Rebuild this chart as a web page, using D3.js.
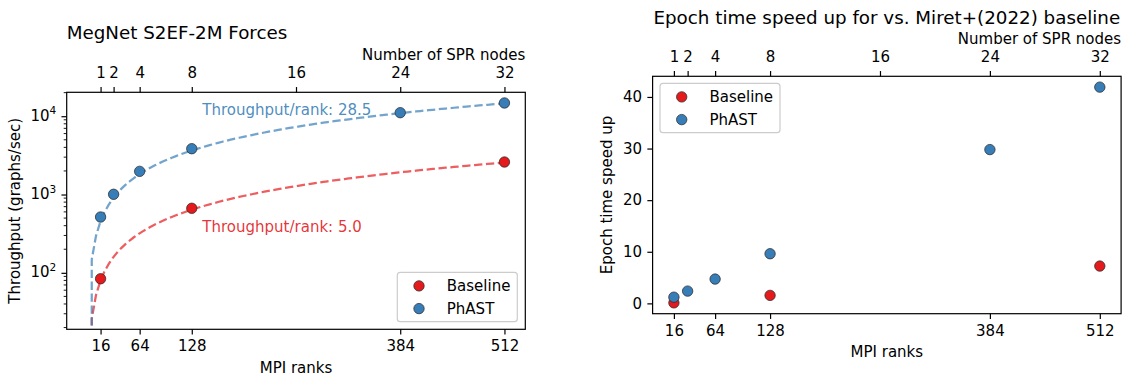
<!DOCTYPE html>
<html>
<head>
<meta charset="utf-8">
<script src="https://cdn.jsdelivr.net/npm/d3@7"></script>
<style>
  body { margin: 0; background: #fff; }
  svg { display: block; font-family: "DejaVu Sans", sans-serif; }
</style>
</head>
<body>
<div id="chart"></div>
<script>
// values
var seriesNames = ['Baseline', 'PhAST'];
var seriesColors = ['#e41a1c', '#377eb8'];
var baselineRanks = [16, 128, 512];
var phastRanks = [16, 32, 64, 128, 384, 512];
var baselineThroughput = [84, 667, 2600];
var phastThroughput = [516, 1007, 1977, 3846, 11090, 14760];
var baselineSpeedup = [0.1, 1.55, 7.23];
var phastSpeedup = [1.2, 2.38, 4.71, 9.62, 29.8, 41.9];
var throughputPerRank = [5.0, 28.5];
var rankTicks = [16, 64, 128, 384, 512];
var nodeTicks = [1, 2, 4, 8, 16, 24, 32];
var ranksPerNode = 16;
var logTicks = [100, 1000, 10000];
var speedupTicks = [0, 10, 20, 30, 40];

var FS = 15, TITLE_FS = 18.3, TICK = 5.25;

// fit lines are sampled like np.linspace(0, 512, 100)
var fitRanks = d3.range(100).map(function(i) { return 512 * i / 99; });

var svg = d3.select('#chart').append('svg')
    .attr('width', 1125)
    .attr('height', 375);
svg.append('rect').attr('width', 1125).attr('height', 375).attr('fill', '#fff');

function styleAxis(g) {
    g.attr('font-size', FS).attr('font-family', null).attr('color', '#000');
    g.select('.domain').remove();
    g.selectAll('.tick line').attr('stroke-width', 1.2);
}

function frame(g, box) {
    g.append('rect')
        .attr('x', box.left).attr('y', box.top)
        .attr('width', box.right - box.left).attr('height', box.bottom - box.top)
        .attr('fill', 'none').attr('stroke', '#000').attr('stroke-width', 1.2);
}

function topAxis(g, x, box) {
    g.append('g')
        .attr('transform', 'translate(0,' + box.top + ')')
        .call(d3.axisTop(x)
            .tickValues(nodeTicks.map(function(n) { return n * ranksPerNode; }))
            .tickFormat(function(d) { return d / ranksPerNode; })
            .tickSize(TICK).tickSizeOuter(0).tickPadding(8.75))
        .call(styleAxis);
    g.append('text')
        .attr('x', box.right).attr('y', box.top - 32)
        .attr('text-anchor', 'end').attr('font-size', FS)
        .text('Number of SPR nodes');
}

function bottomAxis(g, x, box) {
    g.append('g')
        .attr('transform', 'translate(0,' + box.bottom + ')')
        .call(d3.axisBottom(x).tickValues(rankTicks)
            .tickSize(TICK).tickSizeOuter(0).tickPadding(6.1))
        .call(styleAxis);
    g.append('text')
        .attr('x', (box.left + box.right) / 2).attr('y', box.bottom + 43.2)
        .attr('text-anchor', 'middle').attr('font-size', FS)
        .text('MPI ranks');
}

function dots(g, ranks, values, x, y, color) {
    g.selectAll(null)
        .data(ranks)
        .enter()
        .append('circle')
        .attr('cx', function(d) { return x(d); })
        .attr('cy', function(d, i) { return y(values[i]); })
        .attr('r', 5.2)
        .attr('fill', color)
        .attr('stroke', '#2b2b2b')
        .attr('stroke-width', 0.75);
}

function legend(g, x0, y0) {
    g.append('rect')
        .attr('x', x0).attr('y', y0).attr('width', 120).attr('height', 49.4).attr('rx', 3)
        .attr('fill', '#fff').attr('fill-opacity', 0.8)
        .attr('stroke', '#cccccc').attr('stroke-width', 1.2);
    seriesNames.forEach(function(name, i) {
        var cy = y0 + 13.6 + i * 22.7;
        g.append('circle').attr('cx', x0 + 21.7).attr('cy', cy).attr('r', 5.2)
            .attr('fill', seriesColors[i]).attr('stroke', '#2b2b2b').attr('stroke-width', 0.75);
        g.append('text').attr('x', x0 + 49.5).attr('y', cy + 5.4)
            .attr('font-size', FS).text(name);
    });
}

// ---------- left: throughput ----------
var boxL = {left: 66.7, right: 525.3, top: 92.3, bottom: 329.3};
var gL = svg.append('g');

var xL = d3.scaleLinear().domain([-25.6, 537.6]).range([boxL.left, boxL.right]);
var yL = d3.scaleLog().domain([19, 20200]).range([boxL.bottom, boxL.top]);

svg.append('clipPath').attr('id', 'clipL')
  .append('rect')
    .attr('x', boxL.left).attr('y', boxL.top)
    .attr('width', boxL.right - boxL.left).attr('height', boxL.bottom - boxL.top);

// dashed fit lines, rank 0 is clipped far below like matplotlib does on log axes
throughputPerRank.forEach(function(slope, i) {
    var line = d3.line()
        .x(function(d) { return xL(d); })
        .y(function(d) { var v = slope * d; return v > 0 ? yL(v) : 1e5; });
    gL.append('path')
        .datum(fitRanks)
        .attr('clip-path', 'url(#clipL)')
        .attr('fill', 'none')
        .attr('stroke', seriesColors[i])
        .attr('stroke-opacity', 0.7)
        .attr('stroke-width', 2.25)
        .attr('stroke-dasharray', '8.3,3.6')
        .attr('d', line);
});

dots(gL, baselineRanks, baselineThroughput, xL, yL, seriesColors[0]);
dots(gL, phastRanks, phastThroughput, xL, yL, seriesColors[1]);

// fit annotations
var annotAt = [[141, 335], [141, 10500]];
throughputPerRank.forEach(function(slope, i) {
    gL.append('text')
        .attr('x', xL(annotAt[i][0])).attr('y', yL(annotAt[i][1]))
        .attr('font-size', FS)
        .attr('fill', seriesColors[i]).attr('fill-opacity', 0.9)
        .text('Throughput/rank: ' + slope.toFixed(1));
});

frame(gL, boxL);
topAxis(gL, xL, boxL);
bottomAxis(gL, xL, boxL);

// log y axis with 10^n labels and minor ticks
gL.append('g')
    .attr('transform', 'translate(' + boxL.left + ',0)')
    .call(d3.axisLeft(yL).tickValues(logTicks).tickFormat('').tickSize(TICK).tickSizeOuter(0))
    .call(styleAxis);
logTicks.forEach(function(t) {
    var txt = gL.append('text')
        .attr('x', boxL.left - 2 * TICK).attr('y', yL(t) + 4.5)
        .attr('text-anchor', 'end').attr('font-size', FS);
    txt.append('tspan').text('10');
    txt.append('tspan').attr('font-size', 10.5).attr('dy', -6.5).text(Math.round(Math.log10(t)));
});
[10, 100, 1000, 10000].forEach(function(dec) {
    d3.range(2, 10).forEach(function(m) {
        var v = m * dec;
        if (v < yL.domain()[0] || v > yL.domain()[1]) return;
        gL.append('line')
            .attr('x1', boxL.left).attr('x2', boxL.left - 3)
            .attr('y1', yL(v)).attr('y2', yL(v))
            .attr('stroke', '#000').attr('stroke-width', 0.9);
    });
});

gL.append('text')
    .attr('x', boxL.left).attr('y', 39.3)
    .attr('font-size', TITLE_FS)
    .text('MegNet S2EF-2M Forces');
gL.append('text')
    .attr('transform', 'translate(20,' + ((boxL.top + boxL.bottom) / 2) + ') rotate(-90)')
    .attr('text-anchor', 'middle').attr('font-size', FS)
    .text('Throughput (graphs/sec)');

legend(gL, 397.3, 272.3);

// ---------- right: epoch speed up ----------
var boxR = {left: 652.6, right: 1121.1, top: 76.3, bottom: 313.7};
var gR = svg.append('g');

var xR = d3.scaleLinear().domain([-8.8, 536.8]).range([boxR.left, boxR.right]);
var yR = d3.scaleLinear().domain([-2.0, 44.0]).range([boxR.bottom, boxR.top]);

dots(gR, baselineRanks, baselineSpeedup, xR, yR, seriesColors[0]);
dots(gR, phastRanks, phastSpeedup, xR, yR, seriesColors[1]);

frame(gR, boxR);
topAxis(gR, xR, boxR);
bottomAxis(gR, xR, boxR);

gR.append('g')
    .attr('transform', 'translate(' + boxR.left + ',0)')
    .call(d3.axisLeft(yR).tickValues(speedupTicks)
        .tickSize(TICK).tickSizeOuter(0).tickPadding(5.25))
    .call(styleAxis);

gR.append('text')
    .attr('x', (boxR.left + boxR.right) / 2).attr('y', 23.5)
    .attr('text-anchor', 'middle').attr('font-size', TITLE_FS)
    .text('Epoch time speed up for vs. Miret+(2022) baseline');
gR.append('text')
    .attr('transform', 'translate(612.3,' + ((boxR.top + boxR.bottom) / 2) + ') rotate(-90)')
    .attr('text-anchor', 'middle').attr('font-size', FS)
    .text('Epoch time speed up');

legend(gR, 660, 83.3);
</script>
</body>
</html>
